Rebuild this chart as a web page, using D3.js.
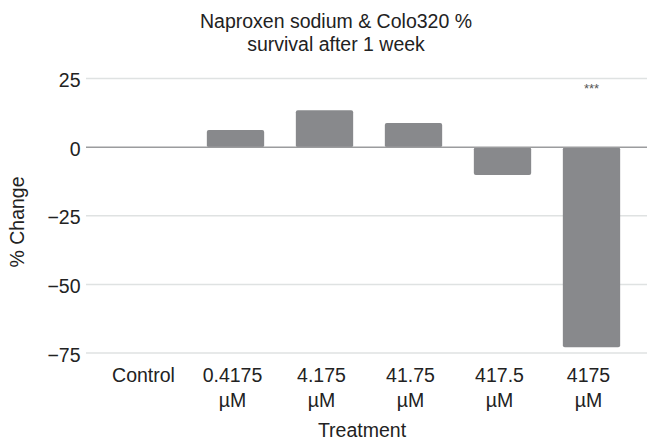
<!DOCTYPE html>
<html>
<head>
<meta charset="utf-8">
<script src="https://cdnjs.cloudflare.com/ajax/libs/d3/7.8.5/d3.min.js"></script>
<style>
  body { margin: 0; background: #fff; }
  text { font-family: "Liberation Sans", Arial, sans-serif; fill: #222; }
</style>
</head>
<body>
<div id="chart"></div>
<script>
// values
var categories = ["Control", "0.4175 µM", "4.175 µM", "41.75 µM", "417.5 µM", "4175 µM"];
var tick_lines = [["Control"], ["0.4175", "µM"], ["4.175", "µM"], ["41.75", "µM"], ["417.5", "µM"], ["4175", "µM"]];
var values = [0, 6.2, 13.4, 8.8, -10.2, -72.9];
var marks = ["", "", "", "", "", "***"];
var y_ticks = [25, 0, -25, -50, -75];

var width = 647, height = 442;
var grid_left = 86, grid_right = 647;
var font = "19.5px";

var svg = d3.select("#chart").append("svg")
  .attr("width", width)
  .attr("height", height);

var x = d3.scaleBand()
  .domain(categories)
  .range([102, 636])
  .paddingInner(0.356)
  .paddingOuter(0.178);

var y = d3.scaleLinear()
  .domain([-75, 25])
  .range([353, 78.5]);

// gridlines
svg.append("g").selectAll("line")
  .data(y_ticks.filter(function(d) { return d != 0; }))
  .enter().append("line")
  .attr("x1", grid_left).attr("x2", grid_right)
  .attr("y1", function(d) { return y(d); })
  .attr("y2", function(d) { return y(d); })
  .attr("stroke", "#dfe2e2")
  .attr("stroke-width", 1.5);

// y tick labels
svg.append("g").selectAll("text")
  .data(y_ticks)
  .enter().append("text")
  .attr("x", 80.5)
  .attr("y", function(d) { return y(d) + 8.5; })
  .attr("text-anchor", "end")
  .style("font-size", font)
  .text(function(d) { return d < 0 ? "\u2212" + Math.abs(d) : d; });

// bars
svg.append("g").selectAll("rect")
  .data(values)
  .enter().append("rect")
  .attr("x", function(d, i) { return x(categories[i]); })
  .attr("width", x.bandwidth())
  .attr("y", function(d) { return y(Math.max(0, d)); })
  .attr("height", function(d) { return Math.abs(y(d) - y(0)); })
  .attr("rx", 2)
  .attr("fill", "#88898c");

// zero line
svg.append("line")
  .attr("x1", grid_left).attr("x2", grid_right)
  .attr("y1", y(0)).attr("y2", y(0))
  .attr("stroke", "#9b9c9e")
  .attr("stroke-width", 1.5);

// significance marks
svg.append("g").selectAll("text")
  .data(marks)
  .enter().append("text")
  .attr("x", function(d, i) { return x(categories[i]) + x.bandwidth() / 2; })
  .attr("y", y(25) + 14)
  .attr("text-anchor", "middle")
  .style("font-size", "13px")
  .style("fill", "#555")
  .text(function(d) { return d; });

// x tick labels
var xt = svg.append("g").selectAll("text")
  .data(tick_lines)
  .enter().append("text")
  .attr("x", function(d, i) { return x(categories[i]) + x.bandwidth() / 2 - 3; })
  .attr("y", 382)
  .attr("text-anchor", "middle")
  .style("font-size", font);
xt.selectAll("tspan")
  .data(function(d) { return d; })
  .enter().append("tspan")
  .attr("x", function() { return d3.select(this.parentNode).attr("x"); })
  .attr("dy", function(d, i) { return i == 0 ? 0 : 24.5; })
  .text(function(d) { return d; });

// axis titles
svg.append("text")
  .attr("x", 362).attr("y", 437)
  .attr("text-anchor", "middle")
  .style("font-size", font)
  .text("Treatment");

svg.append("text")
  .attr("transform", "translate(24,222) rotate(-90)")
  .attr("text-anchor", "middle")
  .style("font-size", font)
  .text("% Change");

// title
var title = svg.append("text")
  .attr("x", 336).attr("y", 27.5)
  .attr("text-anchor", "middle")
  .style("font-size", font);
title.append("tspan").attr("x", 336).attr("dy", 0).text("Naproxen sodium & Colo320 %");
title.append("tspan").attr("x", 336).attr("dy", 23).text("survival after 1 week");
</script>
</body>
</html>
